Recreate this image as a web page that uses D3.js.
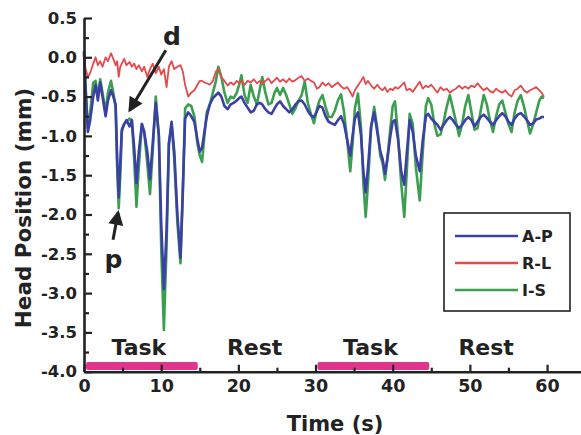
<!DOCTYPE html>
<html>
<head>
<meta charset="utf-8">
<script src="https://cdn.jsdelivr.net/npm/d3@7"></script>
<style>
  body { margin: 0; background: #fff; }
  svg text { font-family: 'DejaVu Sans', sans-serif; font-weight: bold; fill: #222; }
</style>
</head>
<body>
<svg id="chart" width="581" height="435"></svg>
<script>
// sample times (s), shared by the three traces
const time = [
  0, 0.2, 0.5, 0.8, 1.2, 1.5, 1.8, 2.1, 2.4, 2.8,
  3.1, 3.5, 3.8, 4.1, 4.3, 4.5, 4.7, 4.9, 5.2, 5.5,
  5.9, 6.2, 6.5, 6.8, 7.1, 7.5, 7.8, 8.2, 8.55, 8.9,
  9.3, 9.7, 10.0, 10.35, 10.7, 11.0, 11.35, 11.7, 12.1, 12.5,
  12.8, 13.1, 13.5, 13.9, 14.3, 14.7, 15.0, 15.3, 15.6, 15.9,
  16.3, 16.7, 17.1, 17.4, 17.8, 18.2, 18.6, 19.0, 19.4, 19.8,
  20.1, 20.4, 20.8, 21.2, 21.6, 22.0, 22.4, 22.8, 23.1, 23.5,
  23.9, 24.3, 24.7, 25.0, 25.4, 25.8, 26.2, 26.6, 27.0, 27.4,
  27.8, 28.2, 28.6, 29.0, 29.4, 29.8, 30.2, 30.5, 30.9, 31.3,
  31.7, 32.1, 32.5, 32.9, 33.3,
  33.7, 34.1, 34.5, 34.8, 35.1, 35.5, 35.9, 36.2, 36.5, 36.8,
  37.2, 37.6, 38.0, 38.4, 38.7, 39.0, 39.3, 39.7, 40.0, 40.3,
  40.7, 41.1, 41.5, 41.8, 42.2, 42.6, 43.0, 43.5, 43.9, 44.3,
  44.6, 45.0, 45.4, 45.8,
  46.2, 46.6, 47.0, 47.4, 47.8, 48.2, 48.6, 49.0, 49.4, 49.8,
  50.2, 50.6, 51.0, 51.4, 51.8, 52.2, 52.6, 53.0, 53.4, 53.8,
  54.2, 54.6, 55.0, 55.4, 55.8, 56.2, 56.6, 57.0, 57.4, 57.8,
  58.2, 58.6, 59.0, 59.3, 59.6
]

// anterior-posterior (mm)
const apValues = [
  0.08, -0.4, -0.95, -0.8, -0.5, -0.35, -0.55, -0.32, -0.5, -0.75,
  -0.55, -0.42, -0.5, -0.6, -1.3, -1.78, -1.35, -0.92, -0.85, -0.8,
  -0.88, -0.8, -1.15, -1.6, -1.2, -0.85, -0.95, -1.2, -1.55, -1.1,
  -0.58, -1.0, -2.1, -2.95, -2.2, -1.1, -0.82, -1.2, -2.0, -2.55,
  -1.7, -0.78, -0.7, -0.75, -0.82, -1.05, -1.2, -1.15, -0.95, -0.76,
  -0.6, -0.52, -0.48, -0.45, -0.5, -0.62, -0.66, -0.6, -0.58, -0.55,
  -0.52, -0.5, -0.58, -0.64, -0.7, -0.68, -0.6, -0.58, -0.6, -0.66,
  -0.7, -0.72, -0.65, -0.6, -0.56, -0.62, -0.66, -0.7, -0.66, -0.6,
  -0.56, -0.55, -0.6, -0.68, -0.74, -0.76, -0.68, -0.62, -0.64, -0.75,
  -0.82, -0.84, -0.86, -0.8, -0.75,
  -0.85, -1.05, -1.25, -1.0, -0.78, -0.7, -1.0, -1.45, -1.72, -1.4,
  -0.88, -0.7, -0.95, -1.2, -1.3, -1.48, -1.3, -1.0, -0.82, -0.8,
  -1.05, -1.45, -1.62, -1.25, -0.8, -0.95, -1.25, -1.45, -1.05, -0.75,
  -0.72, -0.78, -0.82, -0.86,
  -0.92, -0.86, -0.8, -0.76, -0.8, -0.86, -0.9, -0.86, -0.8, -0.76,
  -0.8, -0.88, -0.82, -0.76, -0.73, -0.77, -0.82, -0.86, -0.8, -0.75,
  -0.71, -0.75, -0.82, -0.86, -0.78, -0.73, -0.71, -0.75, -0.8, -0.86,
  -0.84, -0.79, -0.78, -0.76, -0.76
]

// right-left (mm)
const rlValues = [
  0.05, -0.15, -0.25, -0.2, -0.08, 0.0, -0.1, -0.05, -0.12, 0.0,
  -0.05, 0.05, -0.02, -0.1, -0.05, -0.25, -0.12, -0.08, -0.02, -0.1,
  -0.06, -0.12, -0.08, -0.15, -0.1, -0.18, -0.12, -0.25, -0.15, -0.08,
  -0.2, -0.12, -0.22, -0.15, -0.38, -0.12, -0.05, -0.15, -0.12, -0.1,
  -0.18, -0.35, -0.5, -0.45, -0.42, -0.35, -0.3, -0.3, -0.32, -0.33,
  -0.35, -0.3, -0.18, -0.15, -0.25, -0.3, -0.36, -0.32, -0.35, -0.3,
  -0.33, -0.3, -0.35, -0.3, -0.32, -0.28, -0.33, -0.3, -0.34, -0.3,
  -0.27, -0.33, -0.29, -0.26, -0.31, -0.28, -0.32, -0.27, -0.31, -0.29,
  -0.26, -0.24, -0.3, -0.27, -0.3, -0.32, -0.4, -0.38, -0.32, -0.36,
  -0.33, -0.38, -0.35, -0.32, -0.37,
  -0.4, -0.38, -0.44, -0.5, -0.42, -0.36, -0.3, -0.25, -0.34, -0.3,
  -0.36, -0.4, -0.35, -0.4, -0.42, -0.38, -0.44, -0.4, -0.42, -0.38,
  -0.4, -0.36, -0.32, -0.42, -0.4, -0.44, -0.38, -0.31, -0.4, -0.36,
  -0.38, -0.35, -0.4, -0.45,
  -0.38, -0.42, -0.4, -0.45, -0.42, -0.4, -0.36, -0.4, -0.37, -0.4,
  -0.36, -0.38, -0.33, -0.38, -0.42, -0.39, -0.43, -0.45, -0.4, -0.43,
  -0.45, -0.42, -0.47, -0.5, -0.42, -0.4, -0.36, -0.42, -0.45, -0.42,
  -0.4, -0.38, -0.42, -0.45, -0.5
]

// inferior-superior (mm)
const isValues = [
  0.05, -0.35, -0.9, -0.7, -0.32, -0.3, -0.5, -0.28, -0.45, -0.7,
  -0.45, -0.3, -0.45, -0.65, -1.4, -1.92, -1.5, -0.95, -0.85, -0.82,
  -0.78, -0.8, -1.3, -1.9, -1.4, -0.85, -0.95, -1.35, -1.74, -1.2,
  -0.5, -1.0, -2.4, -3.47, -2.4, -1.1, -0.85, -1.3, -2.1, -2.62,
  -1.75, -0.65, -0.6, -0.62, -0.75, -1.1, -1.25, -1.33, -1.0, -0.7,
  -0.6, -0.45, -0.3, -0.12, -0.25, -0.45, -0.58, -0.5, -0.52, -0.45,
  -0.35, -0.23, -0.48, -0.58, -0.35, -0.5, -0.6, -0.4, -0.25, -0.45,
  -0.6, -0.58, -0.45, -0.39, -0.48, -0.39, -0.48, -0.6, -0.72, -0.65,
  -0.55, -0.48, -0.31, -0.58, -0.72, -0.84, -0.65, -0.55, -0.48, -0.63,
  -0.76, -0.76, -0.68, -0.55, -0.47,
  -0.7, -1.05, -1.45, -1.1, -0.65, -0.46, -0.9, -1.6, -2.03, -1.6,
  -0.9, -0.63, -0.9, -1.25, -1.35, -1.56, -1.3, -0.9, -0.62, -0.56,
  -1.0, -1.6, -2.03, -1.5, -0.72, -0.85, -1.4, -1.82, -1.2, -0.62,
  -0.52, -0.6, -0.85, -1.0,
  -0.98, -0.82, -0.63, -0.48, -0.65, -0.82, -1.0, -0.85, -0.62, -0.48,
  -0.7, -0.92, -0.9, -0.68, -0.48, -0.6, -0.8, -0.95, -0.75, -0.6,
  -0.55, -0.7, -0.85, -0.95, -0.7, -0.55, -0.48, -0.62, -0.8, -0.97,
  -0.85, -0.7, -0.55, -0.5, -0.52
]

const seriesNames = ['A-P', 'R-L', 'I-S']
const seriesColors = ['#3b3fa6', '#e6484c', '#3c9e50']

const yTicks = [0.5, 0.0, -0.5, -1.0, -1.5, -2.0, -2.5, -3.0, -3.5, -4.0]
const yMinorTicks = [0.25, -0.25, -0.75, -1.25, -1.75, -2.25, -2.75, -3.25, -3.75]
const xTicks = [0, 10, 20, 30, 40, 50, 60]
const xMinorTicks = [5, 15, 25, 35, 45, 55]

const phaseStart = [0, 15, 30, 45]
const phaseEnd = [15, 30, 45, 60]
const phaseLabels = ['Task', 'Rest', 'Task', 'Rest']

// annotation text, anchor and arrow ends in data units (s, mm)
const notes = [
  { text: 'd', at: [11.4, 0.16], from: [10.6, 0.09], to: [5.95, -0.67] },
  { text: 'p', at: [3.82, -2.68], from: [3.76, -2.32], to: [4.41, -1.98] }
]

if (apValues.length !== time.length || rlValues.length !== time.length || isValues.length !== time.length) {
  throw new Error('length mismatch ' + time.length + ' ' + apValues.length + ' ' + rlValues.length + ' ' + isValues.length)
}

const svg = d3.select('#chart')

const x = d3.scaleLinear().domain([0, 64.4]).range([84, 581])
const y = d3.scaleLinear().domain([-4, 0.5]).range([371.7, 18])

// task bars along the bottom
const phases = phaseLabels.map((label, i) => ({ label: label, start: phaseStart[i], end: phaseEnd[i] }))
svg.append('g')
  .selectAll('rect')
  .data(phases.filter(d => d.label === 'Task'))
  .enter()
  .append('rect')
  .attr('x', d => x(d.start) + 2)
  .attr('width', d => x(d.end) - x(d.start) - 4)
  .attr('y', 362)
  .attr('height', 8)
  .attr('rx', 2)
  .attr('fill', '#e0358d')

svg.append('g')
  .selectAll('text')
  .data(phases)
  .enter()
  .append('text')
  .attr('x', d => x((d.start + d.end) / 2) - 3)
  .attr('y', 355)
  .attr('text-anchor', 'middle')
  .attr('font-size', 22)
  .text(d => d.label)

// traces
const traces = [
  { name: 'I-S', values: isValues, color: seriesColors[2], width: 2.6 },
  { name: 'A-P', values: apValues, color: seriesColors[0], width: 2.6 },
  { name: 'R-L', values: rlValues, color: seriesColors[1], width: 1.8 }
]
const line = d3.line()
  .x((d, i) => x(time[i]))
  .y(d => y(d))

svg.append('g')
  .selectAll('path')
  .data(traces)
  .enter()
  .append('path')
  .attr('d', d => line(d.values))
  .attr('fill', 'none')
  .attr('stroke', d => d.color)
  .attr('stroke-width', d => d.width)
  .attr('stroke-linejoin', 'round')

// axes, ticks pointing inward
const yAxis = svg.append('g')
  .attr('transform', 'translate(' + x(0) + ',0)')
  .call(d3.axisLeft(y).tickValues(yTicks).tickSizeInner(-8).tickSizeOuter(0).tickPadding(7)
    .tickFormat(d => d.toFixed(1)))
svg.append('g')
  .attr('transform', 'translate(' + x(0) + ',0)')
  .call(d3.axisLeft(y).tickValues(yMinorTicks).tickSizeInner(-5).tickSizeOuter(0).tickFormat(''))
  .call(g => g.select('.domain').remove())

const xAxis = svg.append('g')
  .attr('transform', 'translate(0,' + y(-4) + ')')
  .call(d3.axisBottom(x).tickValues(xTicks).tickSizeInner(-7).tickSizeOuter(0).tickPadding(8)
    .tickFormat(d3.format('d')))
svg.append('g')
  .attr('transform', 'translate(0,' + y(-4) + ')')
  .call(d3.axisBottom(x).tickValues(xMinorTicks).tickSizeInner(-4).tickSizeOuter(0).tickFormat(''))
  .call(g => g.select('.domain').remove())

svg.selectAll('.domain').attr('stroke', '#222').attr('stroke-width', 2.6)
svg.selectAll('.tick line').attr('stroke', '#222').attr('stroke-width', 2.2)
yAxis.selectAll('text').attr('font-size', 16.5).attr('font-family', null)
xAxis.selectAll('text').attr('font-size', 17.5).attr('font-family', null)
yAxis.attr('font-family', null)
xAxis.attr('font-family', null)

// axis titles
svg.append('text')
  .attr('transform', 'translate(30.5,' + 208 + ') rotate(-90)')
  .attr('text-anchor', 'middle')
  .attr('font-size', 21.5)
  .text('Head Position (mm)')

svg.append('text')
  .attr('x', 335)
  .attr('y', 431)
  .attr('text-anchor', 'middle')
  .attr('font-size', 21)
  .text('Time (s)')

// annotations
svg.append('defs').append('marker')
  .attr('id', 'head')
  .attr('viewBox', '0 0 10 10')
  .attr('refX', 8)
  .attr('refY', 5)
  .attr('markerWidth', 5.5)
  .attr('markerHeight', 5)
  .attr('markerUnits', 'strokeWidth')
  .attr('orient', 'auto')
  .append('path')
  .attr('d', 'M0,0 L10,5 L0,10 Z')
  .attr('fill', '#222')

const note = svg.append('g').selectAll('g').data(notes).enter().append('g')
note.append('line')
  .attr('x1', d => x(d.from[0]))
  .attr('y1', d => y(d.from[1]))
  .attr('x2', d => x(d.to[0]))
  .attr('y2', d => y(d.to[1]))
  .attr('stroke', '#222')
  .attr('stroke-width', 3)
  .attr('marker-end', 'url(#head)')
note.append('text')
  .attr('x', d => x(d.at[0]))
  .attr('y', d => y(d.at[1]))
  .attr('text-anchor', 'middle')
  .attr('font-size', 25)
  .text(d => d.text)

// legend
const legend = svg.append('g').attr('transform', 'translate(444,213)')
legend.append('rect')
  .attr('width', 126)
  .attr('height', 98)
  .attr('fill', '#fff')
  .attr('stroke', '#222')
  .attr('stroke-width', 1.6)
const entry = legend.selectAll('g.entry')
  .data(seriesNames)
  .enter()
  .append('g')
  .attr('class', 'entry')
  .attr('transform', (d, i) => 'translate(0,' + (23 + i * 27) + ')')
entry.append('line')
  .attr('x1', 11)
  .attr('x2', 74)
  .attr('stroke', (d, i) => seriesColors[i])
  .attr('stroke-width', 2.6)
entry.append('text')
  .attr('x', 78)
  .attr('y', 5.5)
  .attr('font-size', 16)
  .text(d => d)
</script>
</body>
</html>
